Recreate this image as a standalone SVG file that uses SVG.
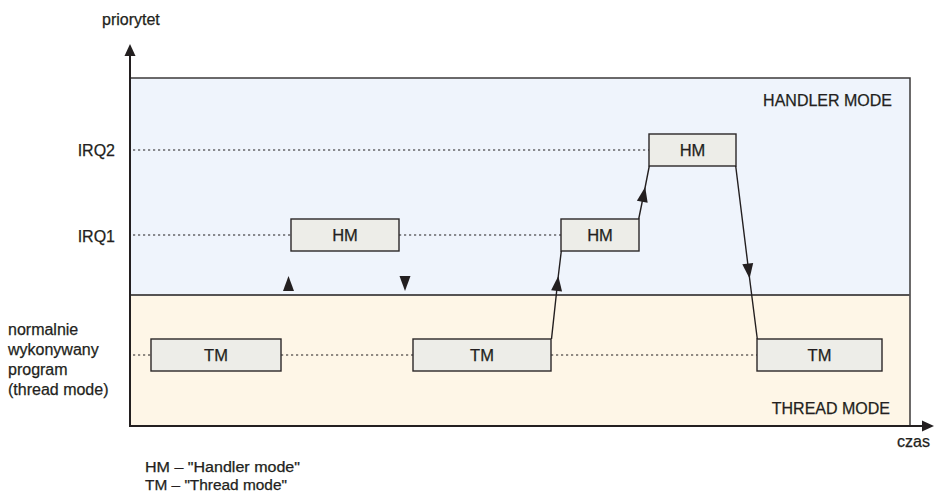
<svg xmlns="http://www.w3.org/2000/svg" width="935" height="496" viewBox="0 0 935 496">
  <style>
    text { font-family: "Liberation Sans", Arial, sans-serif; fill: #231f20; stroke: #231f20; stroke-width: 0.25; }
    .lbl { font-size: 16px; }
    .box { fill: #ededE8; stroke: #2b2728; stroke-width: 1.4; }
    .boxtxt { font-size: 16.5px; text-anchor: middle; }
    .dot { stroke: #231f20; stroke-width: 1.1; stroke-dasharray: 2.2 2.8; fill: none; }
    .conn { stroke: #231f20; stroke-width: 1.4; fill: none; }
    .axis { stroke: #231f20; stroke-width: 2; fill: none; }
    .tri { fill: #231f20; }
  </style>
  <defs>
    <marker id="arr" viewBox="-16 -6 17 12" refX="0" refY="0" markerWidth="17" markerHeight="12" orient="auto" markerUnits="userSpaceOnUse">
      <path d="M0,0 L-15,-5.5 L-15,5.5 z" fill="#231f20"/>
    </marker>
  </defs>

  <!-- mode regions -->
  <g id="handler-mode">
    <rect x="130" y="78" width="780" height="217" fill="#eff4fc"/>
    <text class="lbl" x="892" y="106" text-anchor="end">HANDLER MODE</text>
  </g>
  <g id="thread-mode">
    <rect x="130" y="295" width="780" height="131" fill="#fef6e7"/>
    <text class="lbl" x="890" y="413.5" text-anchor="end">THREAD MODE</text>
  </g>
  <g id="frame">
    <path d="M130,78 H910 V426" fill="none" stroke="#3c3a3a" stroke-width="1.5"/>
    <line x1="130" y1="295" x2="910" y2="295" stroke="#555353" stroke-width="2"/>
  </g>

  <!-- priority levels -->
  <g id="levels">
    <text class="lbl" x="115" y="156" text-anchor="end">IRQ2</text>
    <text class="lbl" x="115" y="241.5" text-anchor="end">IRQ1</text>
    <text class="lbl" x="8" y="335">normalnie</text>
    <text class="lbl" x="8" y="355">wykonywany</text>
    <text class="lbl" x="8" y="375">program</text>
    <text class="lbl" x="8" y="395">(thread mode)</text>
    <path class="dot" d="M133,150 H649"/>
    <path class="dot" d="M133,235 H291 M399,235 H561"/>
    <path class="dot" d="M133,355 H151 M281,355 H413 M551,355 H757"/>
  </g>

  <!-- axes -->
  <g id="axes">
    <line class="axis" x1="130" y1="427" x2="130" y2="54"/>
    <polygon class="tri" points="130,44 124.5,56 135.5,56"/>
    <line class="axis" x1="129" y1="426" x2="923" y2="426"/>
    <polygon class="tri" points="934,426 922,420.5 922,431.5"/>
    <text class="lbl" x="102" y="25">priorytet</text>
    <text class="lbl" x="930" y="447" text-anchor="end">czas</text>
  </g>

  <!-- execution blocks -->
  <g id="tm1">
    <rect class="box" x="151" y="339" width="130" height="32"/>
    <text class="boxtxt" x="216" y="361">TM</text>
  </g>
  <g id="tm2">
    <rect class="box" x="413" y="339" width="138" height="32"/>
    <text class="boxtxt" x="482" y="361">TM</text>
  </g>
  <g id="tm3">
    <rect class="box" x="757" y="339" width="125" height="32"/>
    <text class="boxtxt" x="819.5" y="361">TM</text>
  </g>
  <g id="hm-irq1-a">
    <rect class="box" x="291" y="219" width="108" height="32"/>
    <text class="boxtxt" x="345" y="241">HM</text>
  </g>
  <g id="hm-irq1-b">
    <rect class="box" x="561" y="219" width="78" height="32"/>
    <text class="boxtxt" x="600" y="241">HM</text>
  </g>
  <g id="hm-irq2">
    <rect class="box" x="649" y="134" width="87" height="32"/>
    <text class="boxtxt" x="692.5" y="156">HM</text>
  </g>

  <!-- transitions -->
  <g id="connectors">
    <polygon class="tri" points="288.5,276 283,291 294,291"/>
    <polygon class="tri" points="405,291 399.5,276 410.5,276"/>
    <path class="conn" d="M551.5,339 L558.3,276 L561.3,251" marker-mid="url(#arr)"/>
    <path class="conn" d="M638.7,219 L645.2,187 L649.3,166" marker-mid="url(#arr)"/>
    <path class="conn" d="M735.7,166 L749.6,278.5 L757.3,339" marker-mid="url(#arr)"/>
  </g>

  <!-- legend -->
  <g id="legend">
    <text x="145" y="472" font-size="14" textLength="155" lengthAdjust="spacingAndGlyphs">HM – "Handler mode"</text>
    <text x="145" y="490" font-size="14" textLength="142" lengthAdjust="spacingAndGlyphs">TM – "Thread mode"</text>
  </g>
</svg>
